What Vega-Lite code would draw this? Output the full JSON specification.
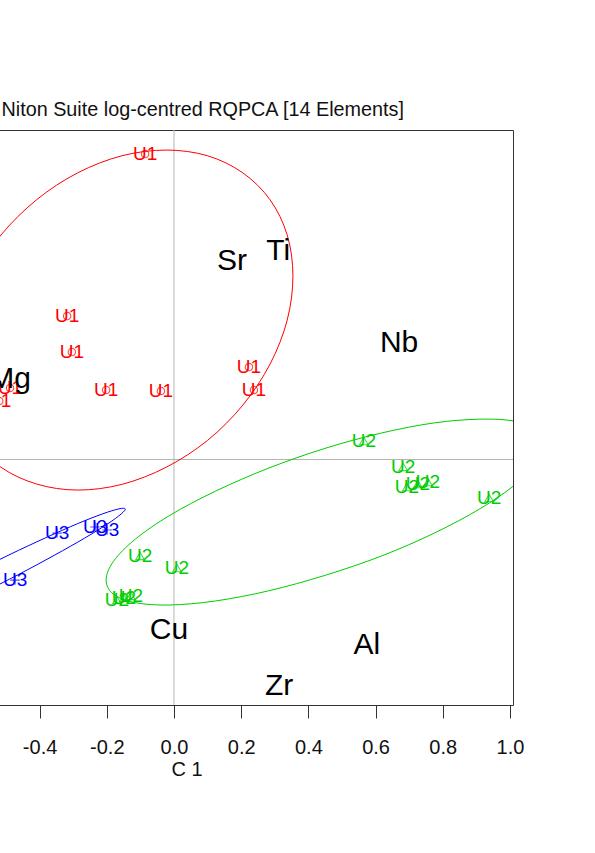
{
  "$schema": "https://vega.github.io/schema/vega-lite/v6.json",
  "width": 653,
  "height": 575,
  "autosize": {"type": "none"},
  "padding": {"left": -140, "top": 130, "right": 82, "bottom": 148},
  "background": "#ffffff",
  "config": {
    "view": {"stroke": "#333333", "strokeWidth": 1},
    "font": "Liberation Sans",
    "axisX": {"labelExpr": "datum.value < 0 ? '-' + format(-datum.value, '.1f') : format(datum.value, '.1f')", "grid": false, "domain": false, "ticks": true, "tickSize": 13, "tickColor": "#333333", "tickWidth": 1, "labelFontSize": 20, "labelColor": "#111111", "labelPadding": 19, "labelFont": "Liberation Sans", "titleFont": "Liberation Sans", "titleFontSize": 20, "titleFontWeight": "normal", "titleColor": "#111111", "titlePadding": 2, "labelFlush": false, "labelOverlap": false, "labelBound": false}
  },
  "title": {"text": "Niton Suite log-centred RQPCA [14 Elements]", "anchor": "start", "frame": "group", "dx": 141.5, "offset": -6, "fontSize": 19.8, "fontWeight": "normal", "color": "#111111", "font": "Liberation Sans", "baseline": "alphabetic"},
  "datasets": {
    "ell": [
      {"grp":"U1","i":0,"x":0.354,"y":0.546},{"grp":"U1","i":1,"x":0.337,"y":0.668},{"grp":"U1","i":2,"x":0.286,"y":0.773},{"grp":"U1","i":3,"x":0.205,"y":0.853},{"grp":"U1","i":4,"x":0.100,"y":0.904},{"grp":"U1","i":5,"x":-0.023,"y":0.921},{"grp":"U1","i":6,"x":-0.155,"y":0.904},{"grp":"U1","i":7,"x":-0.287,"y":0.853},{"grp":"U1","i":8,"x":-0.409,"y":0.773},{"grp":"U1","i":9,"x":-0.515,"y":0.668},{"grp":"U1","i":10,"x":-0.596,"y":0.546},{"grp":"U1","i":11,"x":-0.646,"y":0.416},{"grp":"U1","i":12,"x":-0.664,"y":0.285},{"grp":"U1","i":13,"x":-0.646,"y":0.163},{"grp":"U1","i":14,"x":-0.596,"y":0.058},{"grp":"U1","i":15,"x":-0.515,"y":-0.023},{"grp":"U1","i":16,"x":-0.409,"y":-0.073},{"grp":"U1","i":17,"x":-0.287,"y":-0.091},{"grp":"U1","i":18,"x":-0.155,"y":-0.074},{"grp":"U1","i":19,"x":-0.023,"y":-0.023},{"grp":"U1","i":20,"x":0.100,"y":0.057},{"grp":"U1","i":21,"x":0.205,"y":0.162},{"grp":"U1","i":22,"x":0.286,"y":0.284},{"grp":"U1","i":23,"x":0.337,"y":0.415},
      {"grp":"U2","i":0,"x":1.101,"y":0.046},{"grp":"U2","i":1,"x":1.079,"y":-0.010},{"grp":"U2","i":2,"x":1.014,"y":-0.076},{"grp":"U2","i":3,"x":0.910,"y":-0.147},{"grp":"U2","i":4,"x":0.775,"y":-0.219},{"grp":"U2","i":5,"x":0.618,"y":-0.287},{"grp":"U2","i":6,"x":0.449,"y":-0.345},{"grp":"U2","i":7,"x":0.281,"y":-0.391},{"grp":"U2","i":8,"x":0.124,"y":-0.421},{"grp":"U2","i":9,"x":-0.012,"y":-0.433},{"grp":"U2","i":10,"x":-0.115,"y":-0.426},{"grp":"U2","i":11,"x":-0.180,"y":-0.401},{"grp":"U2","i":12,"x":-0.202,"y":-0.359},{"grp":"U2","i":13,"x":-0.180,"y":-0.303},{"grp":"U2","i":14,"x":-0.115,"y":-0.237},{"grp":"U2","i":15,"x":-0.012,"y":-0.166},{"grp":"U2","i":16,"x":0.124,"y":-0.094},{"grp":"U2","i":17,"x":0.281,"y":-0.026},{"grp":"U2","i":18,"x":0.449,"y":0.033},{"grp":"U2","i":19,"x":0.618,"y":0.079},{"grp":"U2","i":20,"x":0.775,"y":0.109},{"grp":"U2","i":21,"x":0.910,"y":0.120},{"grp":"U2","i":22,"x":1.014,"y":0.114},{"grp":"U2","i":23,"x":1.079,"y":0.088},
      {"grp":"U3","i":0,"x":-0.145,"y":-0.147},{"grp":"U3","i":1,"x":-0.157,"y":-0.162},{"grp":"U3","i":2,"x":-0.198,"y":-0.192},{"grp":"U3","i":3,"x":-0.266,"y":-0.234},{"grp":"U3","i":4,"x":-0.356,"y":-0.285},{"grp":"U3","i":5,"x":-0.462,"y":-0.342},{"grp":"U3","i":6,"x":-0.577,"y":-0.400},{"grp":"U3","i":7,"x":-0.694,"y":-0.457},{"grp":"U3","i":8,"x":-0.803,"y":-0.508},{"grp":"U3","i":9,"x":-0.898,"y":-0.550},{"grp":"U3","i":10,"x":-0.972,"y":-0.579},{"grp":"U3","i":11,"x":-1.020,"y":-0.594},{"grp":"U3","i":12,"x":-1.039,"y":-0.594},{"grp":"U3","i":13,"x":-1.028,"y":-0.579},{"grp":"U3","i":14,"x":-0.987,"y":-0.549},{"grp":"U3","i":15,"x":-0.919,"y":-0.507},{"grp":"U3","i":16,"x":-0.829,"y":-0.457},{"grp":"U3","i":17,"x":-0.722,"y":-0.400},{"grp":"U3","i":18,"x":-0.607,"y":-0.341},{"grp":"U3","i":19,"x":-0.491,"y":-0.284},{"grp":"U3","i":20,"x":-0.382,"y":-0.233},{"grp":"U3","i":21,"x":-0.287,"y":-0.191},{"grp":"U3","i":22,"x":-0.213,"y":-0.162},{"grp":"U3","i":23,"x":-0.164,"y":-0.147}
    ],
    "pts": [
      {"grp":"U1","x":-0.086,"y":0.909},{"grp":"U1","x":-0.318,"y":0.427},{"grp":"U1","x":-0.304,"y":0.320},{"grp":"U1","x":-0.202,"y":0.207},{"grp":"U1","x":-0.039,"y":0.204},{"grp":"U1","x":0.223,"y":0.275},{"grp":"U1","x":0.238,"y":0.207},{"grp":"U1","x":-0.488,"y":0.213},{"grp":"U1","x":-0.520,"y":0.174},
      {"grp":"U2","x":0.565,"y":0.055},{"grp":"U2","x":0.682,"y":-0.022},{"grp":"U2","x":0.693,"y":-0.082},{"grp":"U2","x":0.726,"y":-0.073},{"grp":"U2","x":0.756,"y":-0.067},{"grp":"U2","x":0.938,"y":-0.115},{"grp":"U2","x":-0.101,"y":-0.287},{"grp":"U2","x":0.009,"y":-0.323},{"grp":"U2","x":-0.170,"y":-0.418},{"grp":"U2","x":-0.149,"y":-0.412},{"grp":"U2","x":-0.128,"y":-0.406},
      {"grp":"U3","x":-0.348,"y":-0.219},{"grp":"U3","x":-0.235,"y":-0.201},{"grp":"U3","x":-0.199,"y":-0.210},{"grp":"U3","x":-0.473,"y":-0.359}
    ],
    "vars": [
      {"name":"Sr","x":0.173,"y":0.591},{"name":"Ti","x":0.310,"y":0.621},{"name":"Nb","x":0.670,"y":0.347},{"name":"Mg","x":-0.488,"y":0.240},{"name":"Cu","x":-0.015,"y":-0.507},{"name":"Al","x":0.574,"y":-0.552},{"name":"Zr","x":0.313,"y":-0.674}
    ]
  },
  "layer": [
    {
      "data": {"values": [{}]},
      "mark": {"type": "rule", "color": "#b4b4b4", "strokeWidth": 1},
      "encoding": {
        "x": {"datum": 0, "type": "quantitative", "title": "C 1", "scale": {"domain": [-0.9345, 1.009], "nice": false, "zero": false}, "axis": {"values": [-0.4,-0.2,0,0.2,0.4,0.6,0.8,1.0]}}
      }
    },
    {
      "data": {"values": [{}]},
      "mark": {"type": "rule", "color": "#b4b4b4", "strokeWidth": 1},
      "encoding": {
        "y": {"datum": 0, "type": "quantitative", "scale": {"domain": [-0.7307, 0.9807], "nice": false, "zero": false}, "axis": null}
      }
    },
    {
      "data": {"name": "ell"},
      "mark": {"type": "line", "interpolate": "cardinal-closed", "strokeWidth": 1, "clip": true},
      "encoding": {
        "x": {"field": "x", "type": "quantitative", "title": "C 1", "axis": {"values": [-0.4,-0.2,0,0.2,0.4,0.6,0.8,1.0]}},
        "y": {"field": "y", "type": "quantitative", "axis": null},
        "order": {"field": "i", "type": "quantitative"},
        "detail": {"field": "grp"},
        "color": {"field": "grp", "type": "nominal", "scale": {"domain": ["U1","U2","U3"], "range": ["#ff0000","#00cd00","#0000ff"]}, "legend": null}
      }
    },
    {
      "data": {"name": "pts"},
      "mark": {"type": "point", "filled": false, "strokeWidth": 1.1},
      "encoding": {
        "x": {"field": "x", "type": "quantitative", "title": "C 1", "axis": {"values": [-0.4,-0.2,0,0.2,0.4,0.6,0.8,1.0]}},
        "y": {"field": "y", "type": "quantitative", "axis": null},
        "color": {"field": "grp", "type": "nominal", "legend": null},
        "shape": {"field": "grp", "type": "nominal", "scale": {"domain": ["U1","U2","U3"], "range": ["circle","triangle-up","M-1,0H1M0,-1V1"]}, "legend": null},
        "size": {"field": "grp", "type": "nominal", "scale": {"domain": ["U1","U2","U3"], "range": [55, 90, 160]}, "legend": null}
      }
    },
    {
      "data": {"name": "pts"},
      "mark": {"type": "text", "fontSize": 19, "baseline": "middle", "align": "center", "font": "Liberation Sans"},
      "encoding": {
        "x": {"field": "x", "type": "quantitative", "title": "C 1", "axis": {"values": [-0.4,-0.2,0,0.2,0.4,0.6,0.8,1.0]}},
        "y": {"field": "y", "type": "quantitative", "axis": null},
        "text": {"field": "grp"},
        "color": {"field": "grp", "type": "nominal", "legend": null}
      }
    },
    {
      "data": {"name": "vars"},
      "mark": {"type": "text", "fontSize": 30, "baseline": "middle", "align": "center", "color": "#000000", "font": "Liberation Sans"},
      "encoding": {
        "x": {"field": "x", "type": "quantitative", "title": "C 1", "axis": {"values": [-0.4,-0.2,0,0.2,0.4,0.6,0.8,1.0]}},
        "y": {"field": "y", "type": "quantitative", "axis": null},
        "text": {"field": "name"}
      }
    }
  ]
}
